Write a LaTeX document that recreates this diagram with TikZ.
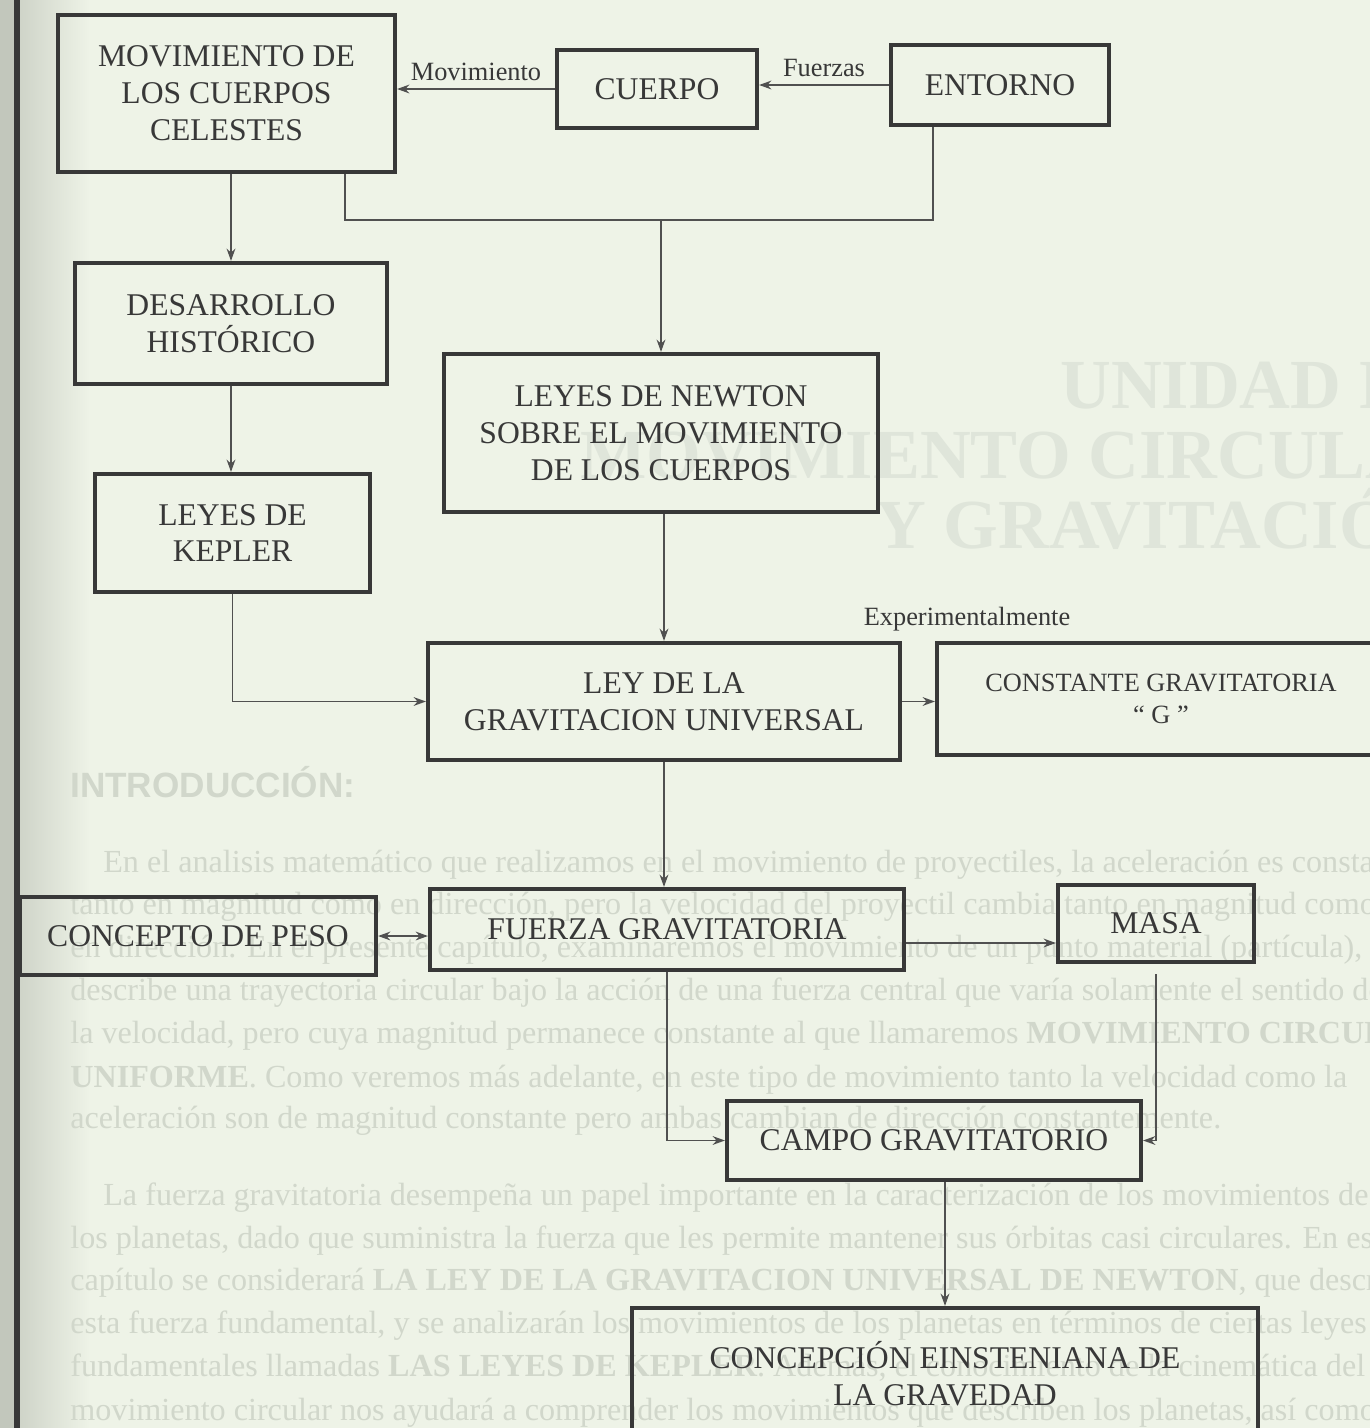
\documentclass[tikz,border=0pt]{standalone}
\usepackage{fontspec}
\setmainfont{Liberation Serif}
\newfontfamily\sansfam{Liberation Sans}
\usetikzlibrary{arrows.meta}
\definecolor{paper}{HTML}{EEF3E7}
\definecolor{ink}{HTML}{383838}
\definecolor{lineink}{HTML}{505050}
\definecolor{faint}{HTML}{D1D7CB}
\definecolor{fainter}{HTML}{DFE5DA}
\definecolor{band}{HTML}{C2C7BC}
\begin{document}
\begin{tikzpicture}[x=0.02cm,y=-0.02cm,
  box/.style={draw=ink, line width=2.4pt, text=ink, align=center,
    font=\fontsize{18}{21}\selectfont, inner sep=0pt},
  lbl/.style={text=ink, font=\fontsize{15}{18}\selectfont, inner sep=1pt},
  conn/.style={draw=lineink, line width=0.9pt},
  arr/.style={conn, -{Stealth[length=7pt,width=5pt]}},
  dbl/.style={conn, {Stealth[length=7pt,width=5pt]}-{Stealth[length=7pt,width=5pt]}},
  bgtext/.style={text=faint, anchor=base west, inner sep=0pt,
    font=\fontsize{18.3}{24}\selectfont},
  title/.style={text=fainter, anchor=base west, inner sep=0pt,
    font=\fontsize{40}{44}\selectfont\bfseries}]
\useasboundingbox (0,0) rectangle (1370,1428);
\clip (0,0) rectangle (1370,1428);
\fill[paper] (0,0) rectangle (1370,1428);
\shade[left color=band!70!paper, right color=paper] (20,0) rectangle (90,1428);
\fill[band] (0,0) rectangle (14,1428);
\fill[ink] (14,0) rectangle (20,1428);

% faint page text behind the diagram
\node[title] (t1) at (1060,408) {UNIDAD IV};
\node[title] (t2) at (580,478) {MOVIMIENTO CIRCULAR};
\node[title] (t3) at (875,548) {Y GRAVITACIÓN};
\node[text=faint, anchor=base west, inner sep=0pt, font=\sansfam\bfseries\fontsize{20}{24}\selectfont] (intro) at (70,797) {INTRODUCCIÓN:};

\node[bgtext] (pa1) at (103,872) {En el analisis matemático que realizamos en el movimiento de proyectiles, la aceleración es constante};
\node[bgtext] (pa2) at (70,914) {tanto en magnitud como en dirección, pero la velocidad del proyectil cambia tanto en magnitud como};
\node[bgtext] (pa3) at (70,957) {en dirección. En el presente capítulo, examinaremos el movimiento de un punto material (partícula), que};
\node[bgtext] (pa4) at (70,1000) {describe una trayectoria circular bajo la acción de una fuerza central que varía solamente el sentido de};
\node[bgtext] (pa5) at (70,1043) {la velocidad, pero cuya magnitud permanece constante al que llamaremos {\bfseries MOVIMIENTO CIRCULAR}};
\node[bgtext] (pa6) at (70,1087) {{\bfseries UNIFORME}. Como veremos más adelante, en este tipo de movimiento tanto la velocidad como la};
\node[bgtext] (pa7) at (70,1128) {aceleración son de magnitud constante pero ambas cambian de dirección constantemente.};
\node[bgtext] (pb1) at (103,1205) {La fuerza gravitatoria desempeña un papel importante en la caracterización de los movimientos de};
\node[bgtext] (pb2) at (70,1248) {los planetas, dado que suministra la fuerza que les permite mantener sus órbitas casi circulares. En este};
\node[bgtext] (pb3) at (70,1290) {capítulo se considerará {\bfseries LA LEY DE LA GRAVITACION UNIVERSAL DE NEWTON}, que describe};
\node[bgtext] (pb4) at (70,1333) {esta fuerza fundamental, y se analizarán los movimientos de los planetas en términos de ciertas leyes};
\node[bgtext] (pb5) at (70,1376) {fundamentales llamadas {\bfseries LAS LEYES DE KEPLER}. Además, el conocimiento de la cinemática del};
\node[bgtext] (pb6) at (70,1420) {movimiento circular nos ayudará a comprender los movimientos que describen los planetas, así como};

% diagram boxes
\node[box, minimum width=6.74cm, minimum height=3.14cm] (mov) at (226.5,93.5) {MOVIMIENTO DE\\LOS CUERPOS\\CELESTES};
\node[box, minimum width=4.00cm, minimum height=1.56cm] (cuerpo) at (657,89) {CUERPO};
\node[box, minimum width=4.36cm, minimum height=1.60cm] (entorno) at (1000,85) {ENTORNO};
\node[box, minimum width=6.24cm, minimum height=2.42cm] (des) at (231,323.5) {DESARROLLO\\HISTÓRICO};
\node[box, minimum width=5.50cm, minimum height=2.36cm] (kep) at (232.5,533) {LEYES DE\\KEPLER};
\node[box, minimum width=8.68cm, minimum height=3.16cm] (newton) at (661,433) {LEYES DE NEWTON\\SOBRE EL MOVIMIENTO\\DE LOS CUERPOS};
\node[box, minimum width=9.44cm, minimum height=2.34cm] (leyg) at (664,701.5) {LEY DE LA\\GRAVITACION UNIVERSAL};
\node[box, minimum width=8.96cm, minimum height=2.24cm, font=\fontsize{15}{18}\selectfont] (const) at (1161,699) {CONSTANTE GRAVITATORIA\\“ G ”};
\node[box, minimum width=9.48cm, minimum height=1.62cm] (fuerza) at (667,929.5) {FUERZA GRAVITATORIA};
\node[box, minimum width=7.12cm, minimum height=1.56cm] (peso) at (198,936) {CONCEPTO DE PESO};
\node[box, minimum width=3.92cm, minimum height=1.54cm] (masa) at (1156,923.5) {MASA};
\node[box, minimum width=8.28cm, minimum height=1.58cm] (campo) at (934,1140.5) {CAMPO GRAVITATORIO};
\node[box, minimum width=12.52cm, minimum height=2.64cm] (eins) at (945,1374) {CONCEPCIÓN EINSTENIANA DE\\LA GRAVEDAD};

% connectors
\draw[arr] (cuerpo.west) -- node[lbl, above=3pt] (lmov) {Movimiento} (cuerpo.west -| mov.east);
\draw[arr] (entorno.west) -- node[lbl, above=3pt] (lfue) {Fuerzas} (entorno.west -| cuerpo.east);

\coordinate (ja) at (345,220);
\coordinate (jb) at (933,220);
\coordinate (jc) at (661,220);
\draw[conn] (mov.south -| ja) -- (ja) -- (jb) -- (entorno.south -| jb);
\draw[arr] (jc) -- (newton.north -| jc);

\draw[arr] (des.north |- mov.south) -- (des.north);
\draw[arr] (des.south) -- (des.south |- kep.north);
\draw[arr] (kep.south) -- (kep.south |- leyg.west) -- (leyg.west);
\draw[arr] (newton.south -| leyg.north) -- (leyg.north);
\draw[arr] (leyg.east) -- (leyg.east -| const.west);
\node[lbl] (lexp) at (967,619) {Experimentalmente};
\draw[arr] (leyg.south) -- (leyg.south |- fuerza.north);
\draw[dbl] (peso.east) -- (peso.east -| fuerza.west);
\draw[arr] ([yshift=-0.27cm]fuerza.east) -- ([yshift=-0.27cm]fuerza.east -| masa.west);
\draw[arr] (fuerza.south) -- (fuerza.south |- campo.west) -- (campo.west);
\draw[arr] ([yshift=-0.2cm]masa.south) -- (masa.south |- campo.east) -- (campo.east);
\draw[arr] (eins.north |- campo.south) -- (eins.north);
\end{tikzpicture}
\end{document}
